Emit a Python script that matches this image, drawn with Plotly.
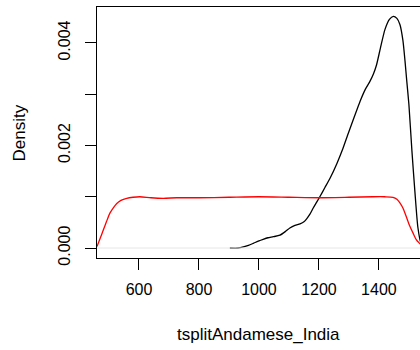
import plotly.graph_objects as go

# Black density curve (tsplitAndamese_India)
black_x = [903, 930, 948, 965, 981, 1000, 1014, 1030, 1048, 1070, 1090, 1103, 1120, 1137, 1150, 1159, 1170,
           1181, 1192, 1203, 1220, 1237, 1260, 1280, 1298, 1318, 1337, 1355, 1370, 1382, 1392, 1405, 1420,
           1435, 1448, 1460, 1470, 1480, 1487, 1493, 1500, 1510, 1520, 1530, 1540, 1550]
black_y = [0.0, 0.00000, 0.00002, 0.00005, 0.00009, 0.00014, 0.00017, 0.00020, 0.00022, 0.00025, 0.00033, 0.00039,
           0.00044, 0.00047, 0.00051, 0.00057, 0.00066, 0.00078, 0.00089, 0.00100, 0.00118, 0.00136, 0.00165,
           0.00194, 0.00224, 0.00256, 0.00286, 0.00310, 0.00325, 0.00340, 0.00357, 0.00390, 0.00426, 0.00446,
           0.00452, 0.00448, 0.00436, 0.00405, 0.00365, 0.00325, 0.00280, 0.00190, 0.00110, 0.00040, 0.00010, 0.00002]

# Red reference density curve
red_x = [460, 470, 481, 492, 503, 515, 526, 540, 559, 580, 603, 640, 681, 726, 800, 900, 1000, 1100, 1200,
         1300, 1380, 1420, 1447, 1460, 1470, 1480, 1487, 1500, 1514, 1524, 1534, 1545]
red_y = [0.00003, 0.00018, 0.00035, 0.00052, 0.00068, 0.00079, 0.00087, 0.00093, 0.00097, 0.00099, 0.00100,
         0.00098, 0.00097, 0.00098, 0.00098, 0.00099, 0.00100, 0.00099, 0.00098, 0.00099, 0.00100, 0.00100,
         0.00099, 0.00095, 0.00088, 0.00078, 0.00068, 0.00047, 0.00029, 0.00017, 0.00010, 0.00004]

x_ticks = [600, 800, 1000, 1200, 1400]
y_ticks = [0.0, 0.001, 0.002, 0.003, 0.004]
y_ticktext = ["0.000", "", "0.002", "", "0.004"]

FONT = "Liberation Sans, Arial, sans-serif"

fig = go.Figure()
fig.add_hline(y=0, line=dict(color="#e6e6e6", width=1))
fig.add_trace(go.Scatter(x=black_x, y=black_y, mode="lines",
                         line=dict(color="black", width=1.3, shape="spline", smoothing=0.6),
                         showlegend=False, hoverinfo="skip"))
fig.add_trace(go.Scatter(x=red_x, y=red_y, mode="lines",
                         line=dict(color="#ff0000", width=1.3, shape="spline", smoothing=0.6),
                         showlegend=False, hoverinfo="skip"))

fig.update_layout(
    width=420, height=350,
    margin=dict(l=97, r=0, t=7, b=92),
    paper_bgcolor="white", plot_bgcolor="white",
    font=dict(family=FONT, size=16, color="black"),
    xaxis=dict(range=[460, 1537], tickvals=x_ticks, ticktext=[str(v) for v in x_ticks],
               ticks="outside", ticklen=11, tickcolor="black", tickwidth=1,
               showline=True, linecolor="black", linewidth=1.2, mirror=True,
               showgrid=False, zeroline=False, ticklabelstandoff=6),
    yaxis=dict(range=[-0.000195, 0.004702], tickvals=y_ticks, ticktext=y_ticktext,
               tickangle=-90, ticks="outside", ticklen=11, tickcolor="black", tickwidth=1,
               showline=True, linecolor="black", linewidth=1.2, mirror=False,
               showgrid=False, zeroline=False, ticklabelstandoff=9),
    annotations=[
        dict(text="Density", x=-0.2384, y=0.5, xref="paper", yref="paper",
             textangle=-90, showarrow=False, xanchor="center", yanchor="middle",
             font=dict(size=17)),
        dict(text="tsplitAndamese_India", x=0.5, y=-0.3028, xref="paper", yref="paper",
             showarrow=False, xanchor="center", yanchor="middle", font=dict(size=17)),
    ],
)

fig.write_html("out.html")
